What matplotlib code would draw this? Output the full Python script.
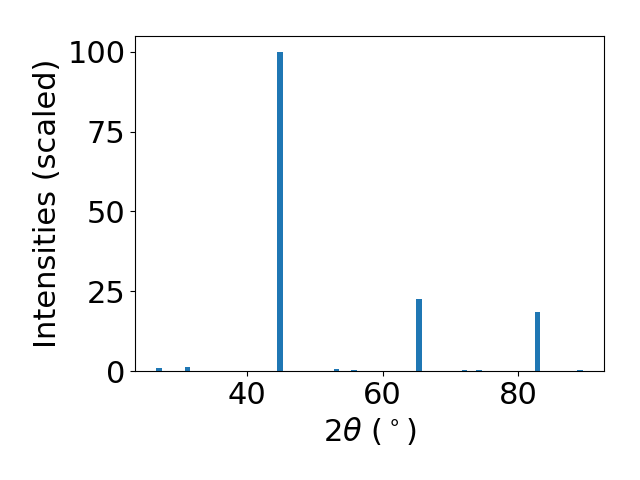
import matplotlib
matplotlib.use("Agg")
import matplotlib.pyplot as plt

two_theta = [27.1, 31.3, 44.9, 53.2, 55.8, 65.4, 72.1, 74.2, 82.8, 89.1]
intensity = [0.9, 1.4, 100.0, 0.6, 0.3, 22.5, 0.3, 0.3, 18.5, 0.3]

plt.rcParams["font.size"] = 22
fig, ax = plt.subplots(figsize=(6.4, 4.8), dpi=100)
ax.bar(two_theta, intensity, width=0.8)
ax.set_xlabel(r"$2\theta$ ($^\circ$)")
ax.set_ylabel("Intensities (scaled)")
ax.set_yticks([0, 25, 50, 75, 100])
fig.subplots_adjust(left=0.211, right=0.944, bottom=0.227, top=0.925)
fig.savefig("out.png")
